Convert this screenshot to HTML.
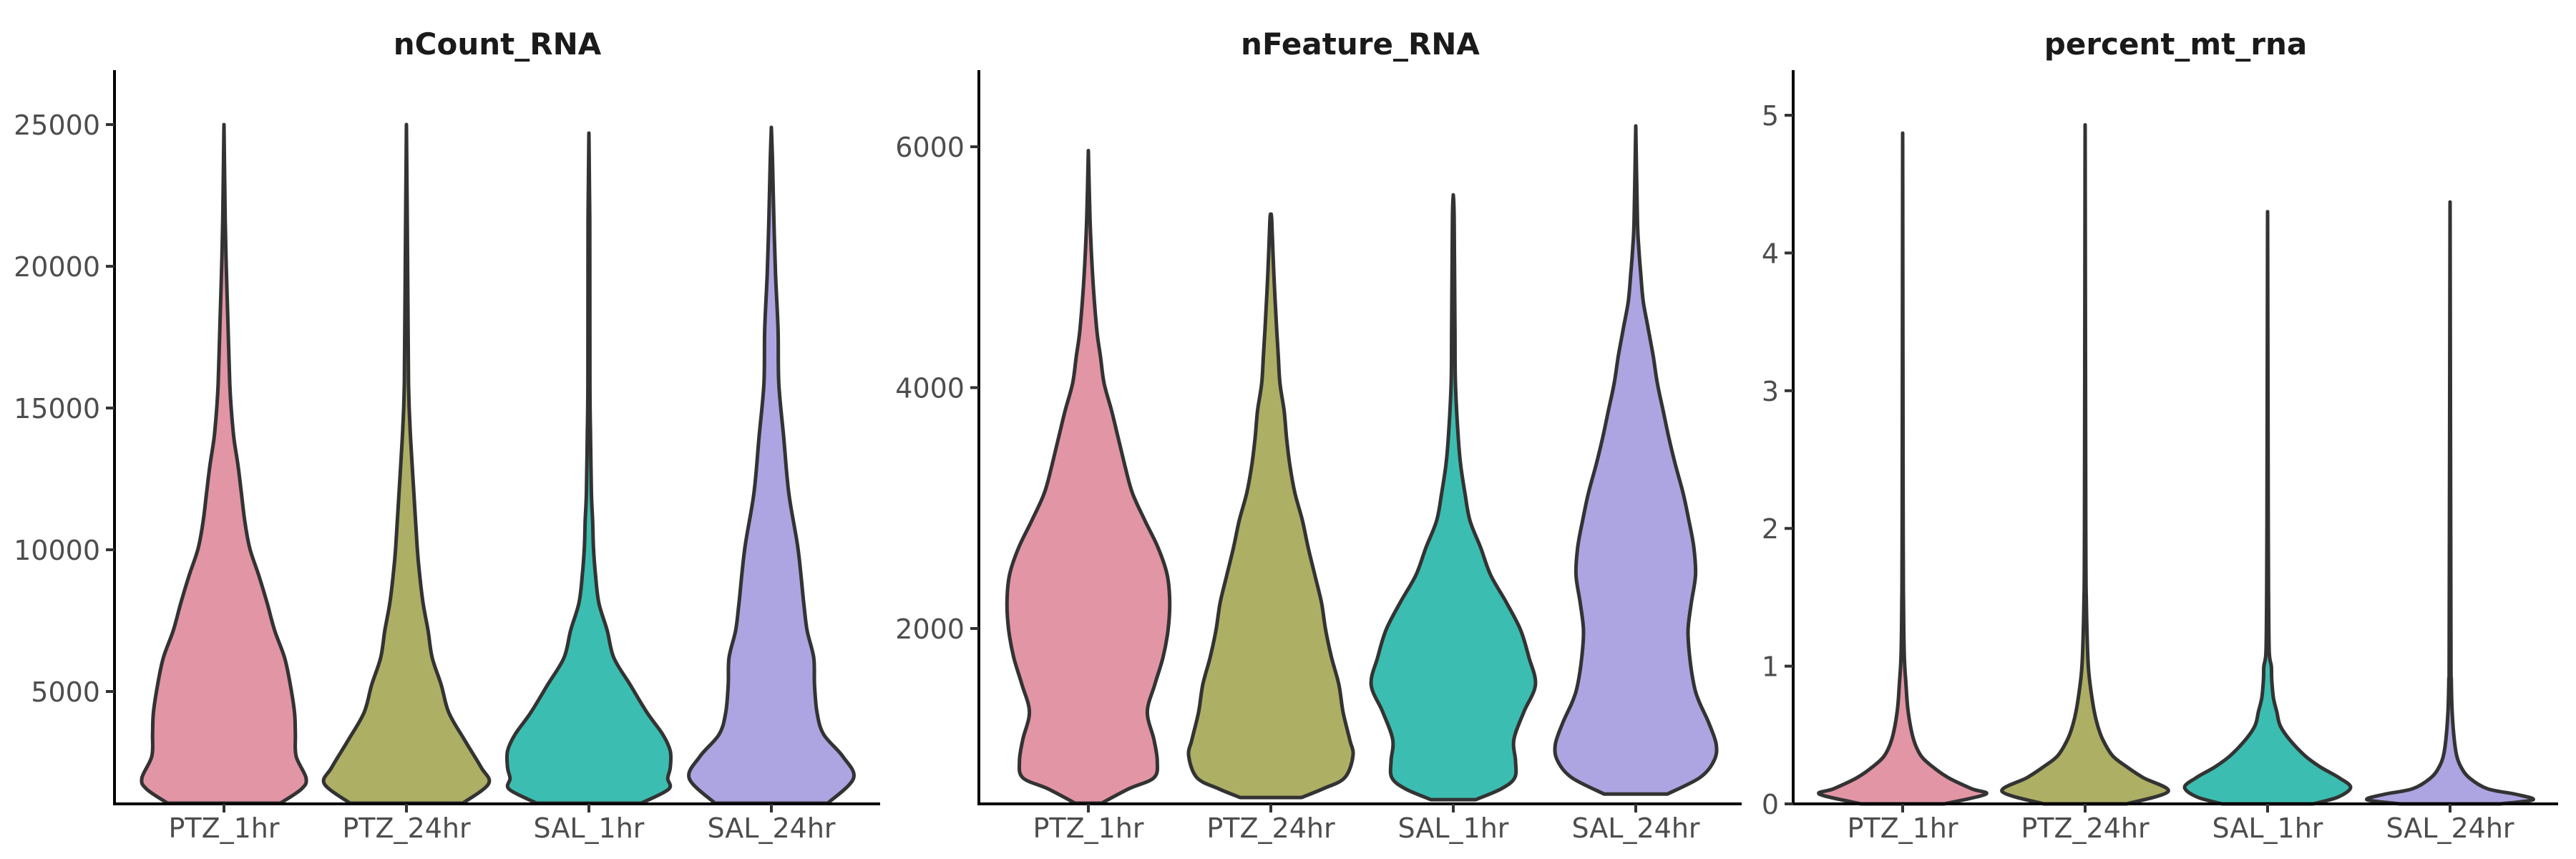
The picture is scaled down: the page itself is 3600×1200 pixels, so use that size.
<!DOCTYPE html>
<html><head><meta charset="utf-8"><style>
html,body{margin:0;padding:0;background:#fff;}
svg{display:block;}
text{font-family:"DejaVu Sans","Liberation Sans",sans-serif;}
</style></head><body>
<svg id="chart" width="3600" height="1200" viewBox="0 0 3600 1200" xmlns="http://www.w3.org/2000/svg"></svg>
<script>
const categories = ["PTZ_1hr","PTZ_24hr","SAL_1hr","SAL_24hr"];
const colors = ["#E295A5","#ADAF64","#3BBEB1","#ADA5E1"];
const panelTitles = ["nCount_RNA","nFeature_RNA","percent_mt_rna"];
const ticks1 = [5000,10000,15000,20000,25000];
const ticks2 = [2000,4000,6000];
const ticks3 = [0,1,2,3,4,5];
// violin profiles: [value, relative density]
const count_PTZ_1hr = [[1060,0.68],[1551,0.93],[1937,0.99],[2710,0.87],[3485,0.86],[4258,0.85],[5225,0.80],[6192,0.73],[7157,0.61],[8124,0.52],[9091,0.42],[10058,0.31],[11025,0.25],[11992,0.21],[12959,0.17],[13924,0.12],[14891,0.09],[15858,0.07],[17792,0.05],[19726,0.03],[21657,0.015],[25000,0]];
const count_PTZ_24hr = [[1060,0.68],[1745,0.99],[2323,0.90],[3290,0.70],[4258,0.51],[5225,0.42],[6192,0.31],[7157,0.26],[8124,0.20],[9091,0.16],[10058,0.13],[11992,0.09],[13924,0.05],[15858,0.025],[19726,0.015],[25000,0]];
const count_SAL_1hr = [[1060,0.63],[1551,0.96],[1937,0.95],[2323,0.98],[2900,0.98],[3485,0.89],[4258,0.70],[5225,0.50],[6192,0.30],[7157,0.22],[8124,0.12],[9091,0.08],[10058,0.055],[11025,0.045],[11992,0.03],[13924,0.02],[15858,0.012],[21657,0.01],[24700,0]];
const count_SAL_24hr = [[1060,0.68],[1937,0.99],[2710,0.86],[3485,0.63],[4258,0.55],[5225,0.52],[6192,0.51],[7157,0.43],[8124,0.39],[10058,0.32],[11992,0.21],[13924,0.15],[15858,0.09],[17792,0.08],[19726,0.05],[21657,0.03],[23590,0.015],[24900,0]];
const feat_PTZ_1hr = [[550,0.16],[670,0.49],[761,0.79],[898,0.83],[1079,0.79],[1307,0.71],[1534,0.80],[1762,0.90],[1989,0.96],[2216,0.98],[2444,0.95],[2671,0.84],[2898,0.68],[3126,0.53],[3353,0.44],[3580,0.36],[3808,0.28],[4035,0.19],[4263,0.145],[4490,0.10],[4945,0.05],[5400,0.02],[5968,0]];
const feat_PTZ_24hr = [[597,0.37],[670,0.63],[761,0.89],[943,0.99],[1079,0.95],[1307,0.87],[1534,0.82],[1762,0.73],[1989,0.66],[2216,0.61],[2444,0.53],[2671,0.45],[2898,0.38],[3126,0.29],[3353,0.23],[3580,0.19],[3808,0.16],[4035,0.11],[4263,0.09],[4490,0.07],[4945,0.036],[5400,0.01],[5420,0]];
const feat_SAL_1hr = [[579,0.27],[670,0.58],[761,0.74],[898,0.75],[1079,0.73],[1307,0.85],[1534,0.99],[1762,0.91],[1989,0.81],[2216,0.64],[2444,0.45],[2671,0.33],[2898,0.20],[3126,0.14],[3353,0.09],[3580,0.06],[4035,0.026],[4490,0.02],[5400,0.01],[5600,0]];
const feat_SAL_24hr = [[625,0.38],[761,0.77],[898,0.94],[1034,0.97],[1216,0.88],[1398,0.76],[1534,0.70],[1762,0.65],[1989,0.63],[2216,0.67],[2444,0.72],[2671,0.70],[2898,0.64],[3126,0.57],[3353,0.48],[3580,0.40],[3808,0.33],[4035,0.26],[4263,0.21],[4490,0.15],[4717,0.09],[4945,0.06],[5172,0.035],[5400,0.02],[6173,0]];
const mt_PTZ_1hr = [[0,0.5],[0.07,1.0],[0.11,0.83],[0.19,0.55],[0.27,0.36],[0.35,0.22],[0.47,0.13],[0.67,0.066],[0.87,0.04],[1.07,0.02],[1.46,0.01],[2.0,0.006],[4.87,0]];
const mt_PTZ_24hr = [[0,0.5],[0.09,1.0],[0.19,0.70],[0.27,0.50],[0.35,0.33],[0.47,0.21],[0.57,0.15],[0.67,0.11],[0.80,0.075],[0.95,0.045],[1.1,0.03],[1.46,0.015],[2.0,0.008],[4.93,0]];
const mt_SAL_1hr = [[0,0.55],[0.05,0.85],[0.12,1.0],[0.19,0.86],[0.27,0.63],[0.35,0.45],[0.47,0.26],[0.57,0.15],[0.67,0.11],[0.77,0.07],[0.90,0.05],[1.0,0.045],[1.1,0.02],[1.46,0.012],[2.0,0.008],[4.3,0]];
const mt_SAL_24hr = [[0,0.6],[0.03,1.0],[0.07,0.79],[0.11,0.45],[0.19,0.23],[0.27,0.13],[0.35,0.08],[0.47,0.05],[0.67,0.025],[0.9,0.015],[1.2,0.01],[4.37,0]];

const panels = [
  {x0:160,x1:1230,vA:5000,yA:966,vB:25000,yB:174,ticks:ticks1,cx0:313,dx:255,data:[count_PTZ_1hr,count_PTZ_24hr,count_SAL_1hr,count_SAL_24hr]},
  {x0:1368,x1:2434,vA:2000,yA:878,vB:6000,yB:205,ticks:ticks2,cx0:1521,dx:255,data:[feat_PTZ_1hr,feat_PTZ_24hr,feat_SAL_1hr,feat_SAL_24hr]},
  {x0:2506,x1:3575,vA:0,yA:1123,vB:5,yB:161,ticks:ticks3,cx0:2659,dx:255,data:[mt_PTZ_1hr,mt_PTZ_24hr,mt_SAL_1hr,mt_SAL_24hr]}
];
const NS="http://www.w3.org/2000/svg";
const svg=document.getElementById('chart');
const yTop=98, yBot=1123, halfMax=116;
function mk(tag,attrs,parent){const e=document.createElementNS(NS,tag);for(const k in attrs)e.setAttribute(k,attrs[k]);(parent||svg).appendChild(e);return e;}
function smooth(pts){
  let d='M'+pts[0][0].toFixed(1)+','+pts[0][1].toFixed(1);
  for(let i=0;i<pts.length-1;i++){
    const p0=pts[Math.max(0,i-1)],p1=pts[i],p2=pts[i+1],p3=pts[Math.min(pts.length-1,i+2)];
    const c1=[p1[0]+(p2[0]-p0[0])/6,p1[1]+(p2[1]-p0[1])/6];
    const c2=[p2[0]-(p3[0]-p1[0])/6,p2[1]-(p3[1]-p1[1])/6];
    d+='C'+c1[0].toFixed(1)+','+c1[1].toFixed(1)+' '+c2[0].toFixed(1)+','+c2[1].toFixed(1)+' '+p2[0].toFixed(1)+','+p2[1].toFixed(1);
  }
  return d;
}
panels.forEach((p,pi)=>{
  const g=mk('g',{});
  
  
  const yScale=v=>p.yA+(v-p.vA)*(p.yB-p.yA)/(p.vB-p.vA);
  const xScale=i=>p.cx0+i*p.dx;
  p.data.forEach((prof,ci)=>{
    const cx=xScale(ci);
    const right=prof.map(d=>[cx+d[1]*halfMax,Math.min(yBot,yScale(d[0]))]);
    const left=prof.slice().reverse().map(d=>[cx-d[1]*halfMax,Math.min(yBot,yScale(d[0]))]);
    const dstr=smooth(left.slice(0))+'L'+smooth(right).slice(1)+'Z';
    const path=mk('path',{d:dstr,fill:colors[ci],stroke:'#333333','stroke-width':5,'stroke-linejoin':'round'},g);
    
    
  });
  const ya=mk('line',{x1:p.x0,y1:yTop,x2:p.x0,y2:yBot+2,stroke:'#000','stroke-width':4},g);
  
  
  const xa=mk('line',{x1:p.x0-2,y1:yBot,x2:p.x1,y2:yBot,stroke:'#000','stroke-width':4},g);
  
  
  p.ticks.forEach(t=>{
    const y=yScale(t);
    const tl=mk('line',{x1:p.x0-12,y1:y,x2:p.x0,y2:y,stroke:'#333','stroke-width':4},g);
    
    
    const tx=mk('text',{x:p.x0-20,y:y+14,'text-anchor':'end','font-size':38,fill:'#4d4d4d'},g);
    tx.textContent=t;
    
    
  });
  categories.forEach((c,ci)=>{
    const x=xScale(ci);
    const tl=mk('line',{x1:x,y1:yBot,x2:x,y2:yBot+12,stroke:'#333','stroke-width':4},g);
    
    
    const tx=mk('text',{x:x,y:1170,'text-anchor':'middle','font-size':38,fill:'#4d4d4d'},g);
    tx.textContent=c;
    
    
  });
  const title=mk('text',{x:(p.x0+p.x1)/2,y:76,'text-anchor':'middle','font-size':42,'font-weight':'bold',fill:'#1a1a1a'},g);
  title.textContent=panelTitles[pi];
  
  
});
</script>
</body></html>
